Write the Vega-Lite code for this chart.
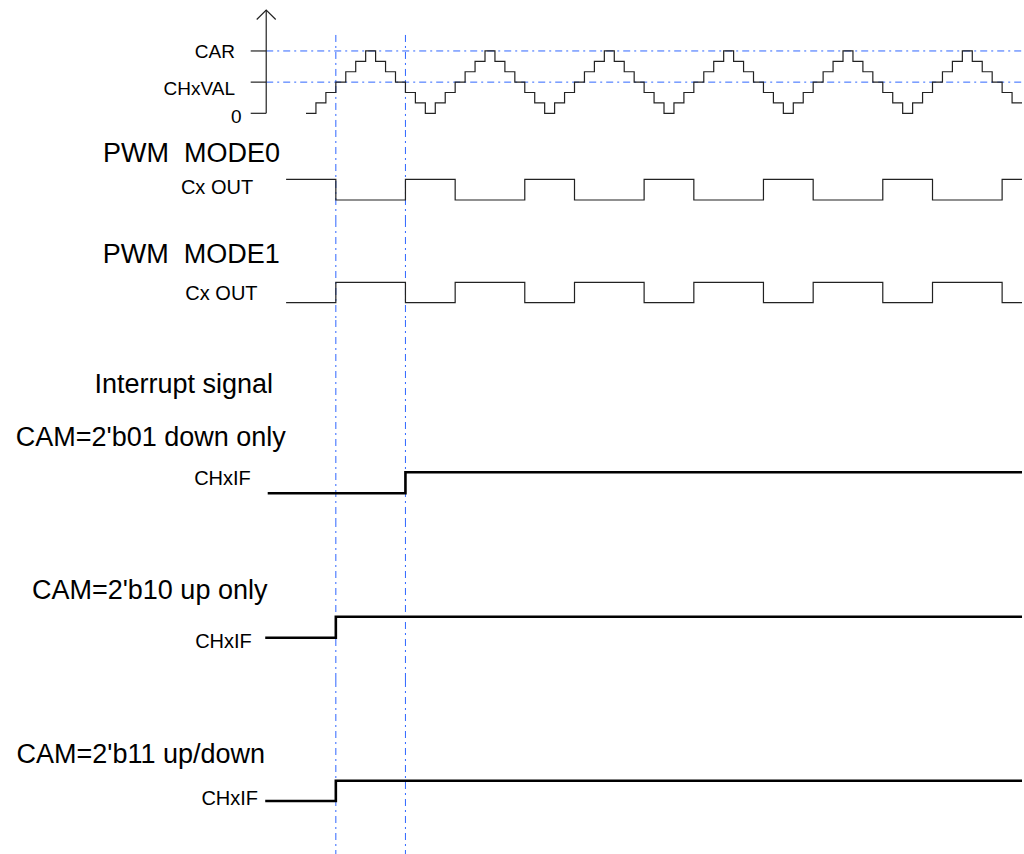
{
  "$schema": "https://vega.github.io/schema/vega-lite/v6.json",
  "padding": 0,
  "spacing": 0,
  "bounds": "flush",
  "background": "white",
  "config": {"view": {"stroke": null}, "concat": {"spacing": 0}, "text": {"font": "Liberation Sans", "color": "#000"}},
  "vconcat": [
    {
      "width": 1024, "height": 130,
      "layer": [
        {
          "data": {"values": [{"level": 3}, {"level": 6}]},
          "mark": {"type": "rule", "color": "#2f66ff", "strokeWidth": 1, "strokeDash": [7, 4, 2, 4]},
          "encoding": {
            "x": {"datum": -4, "type": "quantitative", "scale": {"domain": [-30.77, 72.2], "nice": false, "zero": false}, "axis": null},
            "x2": {"datum": 72},
            "y": {"field": "level", "type": "quantitative", "scale": {"domain": [-1.607, 10.905], "nice": false, "zero": false}, "axis": null}
          }
        },
        {
          "data": {"values": [{"t": 3}, {"t": 10}]},
          "mark": {"type": "rule", "color": "#2f66ff", "strokeWidth": 1, "strokeDash": [7, 4, 2, 4]},
          "encoding": {
            "x": {"field": "t", "type": "quantitative", "scale": {"domain": [-30.77, 72.2], "nice": false, "zero": false}, "axis": null},
            "y": {"datum": 7.54, "type": "quantitative", "scale": {"domain": [-1.607, 10.905], "nice": false, "zero": false}, "axis": null},
            "y2": {"datum": -1.607}
          }
        },
        {
          "data": {"values": [
            {"t": 0, "level": 0}, {"t": 1, "level": 1}, {"t": 2, "level": 2}, {"t": 3, "level": 3}, {"t": 4, "level": 4}, {"t": 5, "level": 5}, {"t": 6, "level": 6}, {"t": 7, "level": 5}, {"t": 8, "level": 4}, {"t": 9, "level": 3}, {"t": 10, "level": 2}, {"t": 11, "level": 1},
            {"t": 12, "level": 0}, {"t": 13, "level": 1}, {"t": 14, "level": 2}, {"t": 15, "level": 3}, {"t": 16, "level": 4}, {"t": 17, "level": 5}, {"t": 18, "level": 6}, {"t": 19, "level": 5}, {"t": 20, "level": 4}, {"t": 21, "level": 3}, {"t": 22, "level": 2}, {"t": 23, "level": 1},
            {"t": 24, "level": 0}, {"t": 25, "level": 1}, {"t": 26, "level": 2}, {"t": 27, "level": 3}, {"t": 28, "level": 4}, {"t": 29, "level": 5}, {"t": 30, "level": 6}, {"t": 31, "level": 5}, {"t": 32, "level": 4}, {"t": 33, "level": 3}, {"t": 34, "level": 2}, {"t": 35, "level": 1},
            {"t": 36, "level": 0}, {"t": 37, "level": 1}, {"t": 38, "level": 2}, {"t": 39, "level": 3}, {"t": 40, "level": 4}, {"t": 41, "level": 5}, {"t": 42, "level": 6}, {"t": 43, "level": 5}, {"t": 44, "level": 4}, {"t": 45, "level": 3}, {"t": 46, "level": 2}, {"t": 47, "level": 1},
            {"t": 48, "level": 0}, {"t": 49, "level": 1}, {"t": 50, "level": 2}, {"t": 51, "level": 3}, {"t": 52, "level": 4}, {"t": 53, "level": 5}, {"t": 54, "level": 6}, {"t": 55, "level": 5}, {"t": 56, "level": 4}, {"t": 57, "level": 3}, {"t": 58, "level": 2}, {"t": 59, "level": 1},
            {"t": 60, "level": 0}, {"t": 61, "level": 1}, {"t": 62, "level": 2}, {"t": 63, "level": 3}, {"t": 64, "level": 4}, {"t": 65, "level": 5}, {"t": 66, "level": 6}, {"t": 67, "level": 5}, {"t": 68, "level": 4}, {"t": 69, "level": 3}, {"t": 70, "level": 2}, {"t": 71, "level": 1},
            {"t": 72, "level": 1}
          ]},
          "mark": {"type": "line", "interpolate": "step-after", "color": "#222", "strokeWidth": 1.2},
          "encoding": {
            "x": {"field": "t", "type": "quantitative", "scale": {"domain": [-30.77, 72.2], "nice": false, "zero": false}, "axis": null},
            "y": {"field": "level", "type": "quantitative", "scale": {"domain": [-1.607, 10.905], "nice": false, "zero": false}, "axis": null}
          }
        },
        {
          "data": {"values": [{"t": -4, "level": 9.94}]},
          "layer": [
            {
              "mark": {"type": "rule", "color": "#222", "strokeWidth": 1.2},
              "encoding": {
                "x": {"field": "t", "type": "quantitative", "scale": {"domain": [-30.77, 72.2], "nice": false, "zero": false}, "axis": null},
                "y": {"field": "level", "type": "quantitative", "scale": {"domain": [-1.607, 10.905], "nice": false, "zero": false}, "axis": null},
                "y2": {"datum": 0}
              }
            },
            {
              "mark": {"type": "point", "shape": "M-1,1L0,0L1,1", "size": 361, "filled": false, "stroke": "#222", "strokeWidth": 1.2, "opacity": 1},
              "encoding": {
                "x": {"field": "t", "type": "quantitative", "scale": {"domain": [-30.77, 72.2], "nice": false, "zero": false}, "axis": null},
                "y": {"field": "level", "type": "quantitative", "scale": {"domain": [-1.607, 10.905], "nice": false, "zero": false}, "axis": null}
              }
            }
          ]
        },
        {
          "data": {"values": [{"level": 0}, {"level": 3}, {"level": 6}]},
          "mark": {"type": "rule", "color": "#222", "strokeWidth": 1.2},
          "encoding": {
            "x": {"datum": -5.56, "type": "quantitative", "scale": {"domain": [-30.77, 72.2], "nice": false, "zero": false}, "axis": null},
            "x2": {"datum": -4},
            "y": {"field": "level", "type": "quantitative", "scale": {"domain": [-1.607, 10.905], "nice": false, "zero": false}, "axis": null}
          }
        },
        {
          "data": {"values": [
            {"label": "CAR", "t": -7.14, "level": 5.29},
            {"label": "CHxVAL", "t": -7.14, "level": 1.76},
            {"label": "0", "t": -6.47, "level": -0.905}
          ]},
          "mark": {"type": "text", "align": "right", "baseline": "alphabetic", "fontSize": 19},
          "encoding": {
            "x": {"field": "t", "type": "quantitative", "scale": {"domain": [-30.77, 72.2], "nice": false, "zero": false}, "axis": null},
            "y": {"field": "level", "type": "quantitative", "scale": {"domain": [-1.607, 10.905], "nice": false, "zero": false}, "axis": null},
            "text": {"field": "label"}
          }
        }
      ]
    },
    {
      "width": 1024, "height": 90,
      "layer": [
        {
          "data": {"values": [{"t": 3}, {"t": 10}]},
          "mark": {"type": "rule", "color": "#2f66ff", "strokeWidth": 1, "strokeDash": [7, 4, 2, 4]},
          "encoding": {"x": {"field": "t", "type": "quantitative", "scale": {"domain": [-30.77, 72.2], "nice": false, "zero": false}, "axis": null}}
        },
        {
          "data": {"values": [
            {"t": -2, "mode0": 1}, {"t": 3, "mode0": 0}, {"t": 10, "mode0": 1}, {"t": 15, "mode0": 0}, {"t": 22, "mode0": 1}, {"t": 27, "mode0": 0}, {"t": 34, "mode0": 1},
            {"t": 39, "mode0": 0}, {"t": 46, "mode0": 1}, {"t": 51, "mode0": 0}, {"t": 58, "mode0": 1}, {"t": 63, "mode0": 0}, {"t": 70, "mode0": 1}, {"t": 72, "mode0": 1}
          ]},
          "mark": {"type": "line", "interpolate": "step-after", "color": "#222", "strokeWidth": 1.2},
          "encoding": {
            "x": {"field": "t", "type": "quantitative", "scale": {"domain": [-30.77, 72.2], "nice": false, "zero": false}, "axis": null},
            "y": {"field": "mode0", "type": "quantitative", "scale": {"domain": [-0.966, 3.382], "nice": false, "zero": false}, "axis": null}
          }
        },
        {
          "data": {"values": [{"label": "PWM\u00a0 MODE0", "t": -11.51, "v": 1.85}]},
          "mark": {"type": "text", "align": "center", "baseline": "alphabetic", "fontSize": 27},
          "encoding": {
            "x": {"field": "t", "type": "quantitative", "scale": {"domain": [-30.77, 72.2], "nice": false, "zero": false}, "axis": null},
            "y": {"field": "v", "type": "quantitative", "scale": {"domain": [-0.966, 3.382], "nice": false, "zero": false}, "axis": null},
            "text": {"field": "label"}
          }
        },
        {
          "data": {"values": [{"label": "Cx OUT", "t": -8.95, "v": 0.275}]},
          "mark": {"type": "text", "align": "center", "baseline": "alphabetic", "fontSize": 20},
          "encoding": {
            "x": {"field": "t", "type": "quantitative", "scale": {"domain": [-30.77, 72.2], "nice": false, "zero": false}, "axis": null},
            "y": {"field": "v", "type": "quantitative", "scale": {"domain": [-0.966, 3.382], "nice": false, "zero": false}, "axis": null},
            "text": {"field": "label"}
          }
        }
      ]
    },
    {
      "width": 1024, "height": 100,
      "layer": [
        {
          "data": {"values": [{"t": 3}, {"t": 10}]},
          "mark": {"type": "rule", "color": "#2f66ff", "strokeWidth": 1, "strokeDash": [7, 4, 2, 4]},
          "encoding": {"x": {"field": "t", "type": "quantitative", "scale": {"domain": [-30.77, 72.2], "nice": false, "zero": false}, "axis": null}}
        },
        {
          "data": {"values": [
            {"t": -2, "mode1": 0}, {"t": 3, "mode1": 1}, {"t": 10, "mode1": 0}, {"t": 15, "mode1": 1}, {"t": 22, "mode1": 0}, {"t": 27, "mode1": 1}, {"t": 34, "mode1": 0},
            {"t": 39, "mode1": 1}, {"t": 46, "mode1": 0}, {"t": 51, "mode1": 1}, {"t": 58, "mode1": 0}, {"t": 63, "mode1": 1}, {"t": 70, "mode1": 0}, {"t": 72, "mode1": 0}
          ]},
          "mark": {"type": "line", "interpolate": "step-after", "color": "#222", "strokeWidth": 1.2},
          "encoding": {
            "x": {"field": "t", "type": "quantitative", "scale": {"domain": [-30.77, 72.2], "nice": false, "zero": false}, "axis": null},
            "y": {"field": "mode1", "type": "quantitative", "scale": {"domain": [-0.848, 4.054], "nice": false, "zero": false}, "axis": null}
          }
        },
        {
          "data": {"values": [{"label": "PWM\u00a0 MODE1", "t": -11.53, "v": 1.931}]},
          "mark": {"type": "text", "align": "center", "baseline": "alphabetic", "fontSize": 27},
          "encoding": {
            "x": {"field": "t", "type": "quantitative", "scale": {"domain": [-30.77, 72.2], "nice": false, "zero": false}, "axis": null},
            "y": {"field": "v", "type": "quantitative", "scale": {"domain": [-0.848, 4.054], "nice": false, "zero": false}, "axis": null},
            "text": {"field": "label"}
          }
        },
        {
          "data": {"values": [{"label": "Cx OUT", "t": -8.50, "v": 0.132}]},
          "mark": {"type": "text", "align": "center", "baseline": "alphabetic", "fontSize": 20},
          "encoding": {
            "x": {"field": "t", "type": "quantitative", "scale": {"domain": [-30.77, 72.2], "nice": false, "zero": false}, "axis": null},
            "y": {"field": "v", "type": "quantitative", "scale": {"domain": [-0.848, 4.054], "nice": false, "zero": false}, "axis": null},
            "text": {"field": "label"}
          }
        }
      ]
    },
    {
      "width": 1024, "height": 200,
      "layer": [
        {
          "data": {"values": [{"t": 3}, {"t": 10}]},
          "mark": {"type": "rule", "color": "#2f66ff", "strokeWidth": 1, "strokeDash": [7, 4, 2, 4]},
          "encoding": {"x": {"field": "t", "type": "quantitative", "scale": {"domain": [-30.77, 72.2], "nice": false, "zero": false}, "axis": null}}
        },
        {
          "data": {"values": [{"t": -3.85, "chxif": 0}, {"t": 10, "chxif": 1}, {"t": 72, "chxif": 1}]},
          "mark": {"type": "line", "interpolate": "step-after", "color": "#000", "strokeWidth": 2.6},
          "encoding": {
            "x": {"field": "t", "type": "quantitative", "scale": {"domain": [-30.77, 72.2], "nice": false, "zero": false}, "axis": null},
            "y": {"field": "chxif", "type": "quantitative", "scale": {"domain": [-1.271, 8.252], "nice": false, "zero": false}, "axis": null}
          }
        },
        {
          "data": {"values": [{"label": "Interrupt signal", "t": -12.29, "v": 4.762}, {"label": "CAM=2'b01 down only", "t": -15.61, "v": 2.252}]},
          "mark": {"type": "text", "align": "center", "baseline": "alphabetic", "fontSize": 27},
          "encoding": {
            "x": {"field": "t", "type": "quantitative", "scale": {"domain": [-30.77, 72.2], "nice": false, "zero": false}, "axis": null},
            "y": {"field": "v", "type": "quantitative", "scale": {"domain": [-1.271, 8.252], "nice": false, "zero": false}, "axis": null},
            "text": {"field": "label"}
          }
        },
        {
          "data": {"values": [{"label": "CHxIF", "t": -8.40, "v": 0.395}]},
          "mark": {"type": "text", "align": "center", "baseline": "alphabetic", "fontSize": 20},
          "encoding": {
            "x": {"field": "t", "type": "quantitative", "scale": {"domain": [-30.77, 72.2], "nice": false, "zero": false}, "axis": null},
            "y": {"field": "v", "type": "quantitative", "scale": {"domain": [-1.271, 8.252], "nice": false, "zero": false}, "axis": null},
            "text": {"field": "label"}
          }
        }
      ]
    },
    {
      "width": 1024, "height": 160,
      "layer": [
        {
          "data": {"values": [{"t": 3}, {"t": 10}]},
          "mark": {"type": "rule", "color": "#2f66ff", "strokeWidth": 1, "strokeDash": [7, 4, 2, 4]},
          "encoding": {"x": {"field": "t", "type": "quantitative", "scale": {"domain": [-30.77, 72.2], "nice": false, "zero": false}, "axis": null}}
        },
        {
          "data": {"values": [{"t": -4.1, "chxif": 0}, {"t": 3, "chxif": 1}, {"t": 72, "chxif": 1}]},
          "mark": {"type": "line", "interpolate": "step-after", "color": "#000", "strokeWidth": 2.6},
          "encoding": {
            "x": {"field": "t", "type": "quantitative", "scale": {"domain": [-30.77, 72.2], "nice": false, "zero": false}, "axis": null},
            "y": {"field": "chxif", "type": "quantitative", "scale": {"domain": [-2.014, 5.605], "nice": false, "zero": false}, "axis": null}
          }
        },
        {
          "data": {"values": [{"label": "CAM=2'b10 up only", "t": -15.72, "v": 1.829}]},
          "mark": {"type": "text", "align": "center", "baseline": "alphabetic", "fontSize": 27},
          "encoding": {
            "x": {"field": "t", "type": "quantitative", "scale": {"domain": [-30.77, 72.2], "nice": false, "zero": false}, "axis": null},
            "y": {"field": "v", "type": "quantitative", "scale": {"domain": [-2.014, 5.605], "nice": false, "zero": false}, "axis": null},
            "text": {"field": "label"}
          }
        },
        {
          "data": {"values": [{"label": "CHxIF", "t": -8.30, "v": -0.505}]},
          "mark": {"type": "text", "align": "center", "baseline": "alphabetic", "fontSize": 20},
          "encoding": {
            "x": {"field": "t", "type": "quantitative", "scale": {"domain": [-30.77, 72.2], "nice": false, "zero": false}, "axis": null},
            "y": {"field": "v", "type": "quantitative", "scale": {"domain": [-2.014, 5.605], "nice": false, "zero": false}, "axis": null},
            "text": {"field": "label"}
          }
        }
      ]
    },
    {
      "width": 1024, "height": 174,
      "layer": [
        {
          "data": {"values": [{"t": 3}, {"t": 10}]},
          "mark": {"type": "rule", "color": "#2f66ff", "strokeWidth": 1, "strokeDash": [7, 4, 2, 4]},
          "encoding": {"x": {"field": "t", "type": "quantitative", "scale": {"domain": [-30.77, 72.2], "nice": false, "zero": false}, "axis": null}}
        },
        {
          "data": {"values": [{"t": -4.1, "chxif": 0}, {"t": 3, "chxif": 1}, {"t": 72, "chxif": 1}]},
          "mark": {"type": "line", "interpolate": "step-after", "color": "#000", "strokeWidth": 2.6},
          "encoding": {
            "x": {"field": "t", "type": "quantitative", "scale": {"domain": [-30.77, 72.2], "nice": false, "zero": false}, "axis": null},
            "y": {"field": "chxif", "type": "quantitative", "scale": {"domain": [-2.611, 5.961], "nice": false, "zero": false}, "axis": null}
          }
        },
        {
          "data": {"values": [{"label": "CAM=2'b11 up/down", "t": -16.61, "v": 1.857}]},
          "mark": {"type": "text", "align": "center", "baseline": "alphabetic", "fontSize": 27},
          "encoding": {
            "x": {"field": "t", "type": "quantitative", "scale": {"domain": [-30.77, 72.2], "nice": false, "zero": false}, "axis": null},
            "y": {"field": "v", "type": "quantitative", "scale": {"domain": [-2.611, 5.961], "nice": false, "zero": false}, "axis": null},
            "text": {"field": "label"}
          }
        },
        {
          "data": {"values": [{"label": "CHxIF", "t": -7.67, "v": -0.197}]},
          "mark": {"type": "text", "align": "center", "baseline": "alphabetic", "fontSize": 20},
          "encoding": {
            "x": {"field": "t", "type": "quantitative", "scale": {"domain": [-30.77, 72.2], "nice": false, "zero": false}, "axis": null},
            "y": {"field": "v", "type": "quantitative", "scale": {"domain": [-2.611, 5.961], "nice": false, "zero": false}, "axis": null},
            "text": {"field": "label"}
          }
        }
      ]
    }
  ]
}
